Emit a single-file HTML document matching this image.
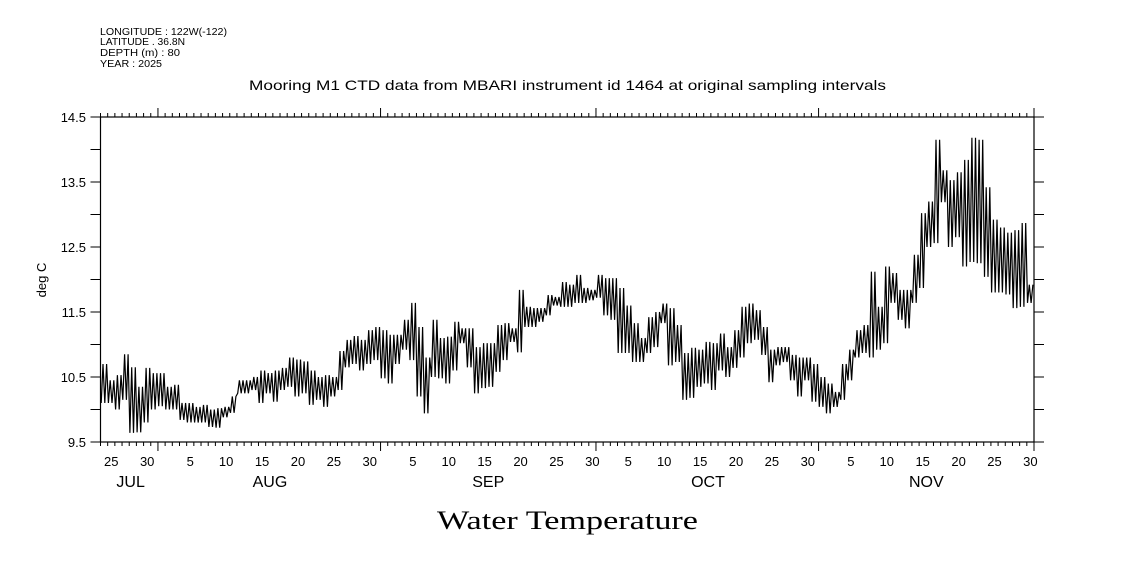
<!DOCTYPE html>
<html><head><meta charset="utf-8"><style>
body{margin:0;background:#fff;}
svg text{font-family:"Liberation Sans",sans-serif;fill:#000;}
</style></head><body>
<svg id="chart" width="1121" height="560" xmlns="http://www.w3.org/2000/svg">
<g font-size="10">
<text x="100" y="35" textLength="127" lengthAdjust="spacingAndGlyphs">LONGITUDE : 122W(-122)</text>
<text x="100" y="45" textLength="85" lengthAdjust="spacingAndGlyphs">LATITUDE . 36.8N</text>
<text x="100" y="56" textLength="80" lengthAdjust="spacingAndGlyphs">DEPTH (m) : 80</text>
<text x="100" y="67" textLength="62" lengthAdjust="spacingAndGlyphs">YEAR : 2025</text>
</g>
<text x="249" y="90" textLength="637" lengthAdjust="spacingAndGlyphs" font-size="14">Mooring M1 CTD data from MBARI instrument id 1464 at original sampling intervals</text>
<text transform="translate(46,280) rotate(-90)" text-anchor="middle" font-size="13">deg C</text>
<text x="437" y="529" textLength="261" lengthAdjust="spacingAndGlyphs" font-size="26" style="font-family:'Liberation Serif',serif">Water Temperature</text>
<g id="axes"></g>
<g id="series"></g>
</svg>
<script>
// day index 0 = Jul 24 00:00
const dailyHigh=[10.7,10.45,10.53,10.85,10.65,10.35,10.64,10.56,10.56,10.35,10.38,10.1,10.1,10.04,10.07,10.0,10.02,10.04,10.2,10.45,10.45,10.5,10.6,10.56,10.6,10.64,10.8,10.77,10.74,10.6,10.5,10.53,10.5,10.9,11.07,11.13,11.07,11.22,11.27,11.22,11.15,11.15,11.38,11.64,11.27,10.8,11.38,11.1,11.12,11.35,11.25,11.25,10.96,11.02,11.02,11.3,11.33,11.25,11.84,11.58,11.56,11.56,11.76,11.73,11.96,11.92,12.07,11.87,11.84,12.07,12.02,12.02,11.87,11.6,11.33,11.1,11.42,11.5,11.63,11.56,11.3,10.87,10.95,10.92,11.04,11.02,11.17,10.96,11.22,11.58,11.63,11.53,11.27,10.92,10.96,10.96,10.84,10.8,10.8,10.7,10.5,10.4,10.27,10.7,10.92,11.22,11.3,12.12,11.58,12.2,12.1,11.84,11.84,12.38,13.02,13.2,14.15,13.68,13.53,13.65,13.84,14.18,14.15,13.42,12.92,12.8,12.72,12.76,12.87,11.92];
const dailyLow=[10.1,10.1,10.0,10.15,9.64,9.65,9.8,10.0,10.05,10.0,10.0,9.84,9.8,9.8,9.8,9.73,9.72,9.88,9.95,10.25,10.25,10.3,10.1,10.25,10.12,10.3,10.35,10.2,10.25,10.07,10.15,10.04,10.2,10.3,10.65,10.7,10.6,10.7,10.76,10.48,10.4,10.7,10.92,10.76,10.2,9.94,10.5,10.48,10.4,10.6,11.02,10.65,10.25,10.33,10.35,10.58,10.76,11.04,10.88,11.27,11.27,11.35,11.45,11.6,11.58,11.58,11.64,11.64,11.68,11.72,11.45,11.38,10.87,10.87,10.73,10.73,10.87,10.96,11.33,10.68,10.73,10.15,10.18,10.35,10.4,10.3,10.6,10.5,10.64,10.8,11.02,11.07,10.84,10.42,10.68,10.73,10.45,10.2,10.45,10.12,10.04,9.94,10.04,10.15,10.45,10.8,10.87,10.8,10.92,11.02,11.64,11.38,11.25,11.64,11.87,12.5,12.56,13.19,12.5,12.65,12.2,12.27,12.25,12.04,11.8,11.8,11.77,11.56,11.58,11.64];
const yTicks=[9.5,10.5,11.5,12.5,13.5,14.5];
const yMinor=[10,11,12,13,14];
const dayLabels=["25","30","5","10","15","20","25","30","5","10","15","20","25","30","5","10","15","20","25","30","5","10","15","20","25","30"];
const dayLabelIdx=[1,6,12,17,22,27,32,37,43,48,53,58,63,68,73,78,83,88,93,98,104,109,114,119,124,129];
const months=["JUL","AUG","SEP","OCT","NOV"];
const monthLabelIdx=[4.2,23.6,54,84.6,115];
const monthStartIdx=[8,39,69,100];
const X0=100.5,X1=1034,Y0=442,Y1=117,D0=0,D1=130,T0=9.5,T1=14.5;
const xs=d=>X0+(d-D0)/(D1-D0)*(X1-X0);
const ys=t=>Y0-(t-T0)/(T1-T0)*(Y0-Y1);
const NS="http://www.w3.org/2000/svg";
const axes=document.getElementById('axes'),series=document.getElementById('series');
function mk(tag,attrs,parent){const e=document.createElementNS(NS,tag);for(const k in attrs)e.setAttribute(k,attrs[k]);parent.appendChild(e);return e;}
const frame=mk('rect',{x:X0,y:Y1,width:X1-X0,height:Y0-Y1,fill:'none',stroke:'#000','stroke-width':1.2},axes);


let tp='';
for(let d=D0;d<=D1;d++){const x=xs(d);const major=monthStartIdx.includes(d)||d===D1;const L=major?9:4;
tp+=`M${x},${Y0}v${L}M${x},${Y1}v${-L}`;}
yTicks.concat(yMinor).forEach(t=>{const y=ys(t);tp+=`M${X0-10},${y}h10M${X1},${y}h10`;});
const tk=mk('path',{d:tp,stroke:'#000','stroke-width':1,fill:'none'},axes);


yTicks.forEach(t=>{const e=mk('text',{x:86,y:ys(t)+5,'text-anchor':'end','font-size':13},axes);e.textContent=t.toFixed(1);

});
dayLabels.forEach((s,i)=>{const e=mk('text',{x:xs(dayLabelIdx[i]+0.5),y:466,'text-anchor':'middle','font-size':13},axes);e.textContent=s;

});
months.forEach((m,i)=>{const e=mk('text',{x:xs(monthLabelIdx[i]),y:487,'text-anchor':'middle','font-size':16},axes);e.textContent=m;

});
let p='';
dailyHigh.forEach((h,d)=>{const l=dailyLow[d];
const pts=[[d+0.1,l],[d+0.35,h],[d+0.6,l],[d+0.85,h]];
pts.forEach((q,j)=>{p+=(d===0&&j===0?'M':'L')+xs(q[0]).toFixed(1)+','+ys(q[1]).toFixed(1);});});
const line=mk('path',{d:p,fill:'none',stroke:'#000','stroke-width':1.2},series);


</script>
</body></html>
